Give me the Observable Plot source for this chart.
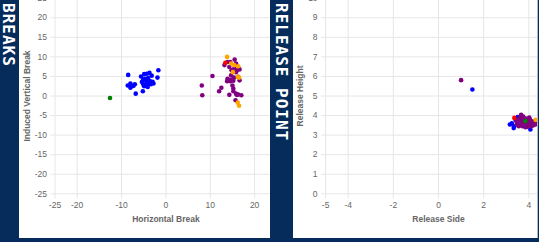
<!DOCTYPE html>
<html><head><meta charset="utf-8">
<script src="https://cdn.jsdelivr.net/npm/d3@7"></script>
<script src="https://cdn.jsdelivr.net/npm/@observablehq/plot@0.6"></script>
<style>
html,body{margin:0;padding:0;width:539px;height:242px;overflow:hidden;background:#062c5c;}
.panel{position:absolute;top:0;height:238px;background:#fff;overflow:hidden;}
.panel svg{position:absolute;left:0;top:-10px;max-width:none !important;}
.strip{position:absolute;top:3px;color:#fff;font-family:"DejaVu Sans Mono",monospace;font-weight:bold;font-size:16px;letter-spacing:1px;writing-mode:vertical-rl;line-height:16px;white-space:nowrap;}
</style>
</head><body>
<div class="strip" id="s1" style="left:0px;">BREAKS</div>
<div class="panel" id="p1" style="left:19px;width:251px;"></div>
<div class="strip" id="s2" style="left:273px;">RELEASE POINT</div>
<div class="panel" id="p2" style="left:293px;width:244px;border-right:1px solid #aab8cc;"></div>
<script>
// ---- Breaks chart data ----
const breakXTicks = [-25, -20, -10, 0, 10, 20];
const breakYTicks = [-25, -20, -15, -10, -5, 0, 5, 10, 15, 20, 25];
const blueBreaks = [
  [-8.5, 5.4], [-8.6, 2.7], [-8.0, 2.1], [-7.7, 2.5], [-7.3, 2.6], [-7.0, 3.0],
  [-8.0, 3.2], [-6.8, 0.6], [-5.2, 1.2], [-5.6, 5.0], [-4.9, 5.6], [-4.3, 5.7],
  [-3.7, 5.9], [-3.2, 5.2], [-4.7, 4.4], [-4.0, 4.6], [-4.4, 3.8], [-3.6, 3.8],
  [-5.1, 3.0], [-4.4, 2.8], [-3.4, 3.0], [-3.0, 3.6], [-5.4, 3.6], [-1.9, 4.7],
  [-1.7, 6.6], [-5.1, 4.2], [-4.0, 3.3], [-4.9, 2.5], [-2.8, 3.2], [-4.1, 2.3]
];
const purpleBreaks = [
  [8.1, 2.7], [8.2, 0.2], [10.5, 5.1], [12.0, 1.2], [12.5, 2.1], [13.2, 7.9],
  [13.9, 8.7], [14.5, 8.7], [15.5, 9.3], [15.8, 8.3], [14.3, 7.4], [14.8, 6.6],
  [15.4, 7.0], [16.0, 6.6], [16.6, 6.8], [15.8, 6.1], [14.7, 5.3], [13.9, 4.4],
  [14.7, 4.2], [15.4, 4.7], [16.3, 4.9], [13.8, 3.8], [14.5, 3.8], [15.2, 3.9],
  [16.6, 4.0], [15.0, 2.7], [15.2, 1.9], [15.2, 1.2], [15.8, 0.6], [14.3, 0.3],
  [16.3, 0.4], [17.0, 0.2], [15.7, -1.1], [16.0, 0.3]
];
const orangeBreaks = [
  [13.8, 10.0], [15.4, 7.9], [16.3, 7.6], [15.1, 6.1], [16.2, 4.9], [16.5, 4.7],
  [16.2, -1.7], [16.5, -2.5], [14.7, 8.3]
];
const redBreaks = [[13.4, 8.5]];
const greenBreaks = [[-12.6, -0.5]];

// ---- Release point chart data ----
const releaseXTicks = [-5, -4, -2, 0, 2, 4];
const releaseYTicks = [0, 1, 2, 3, 4, 5, 6, 7, 8, 9, 10];
const blueRelease = [
  [1.5, 5.33], [3.16, 3.54], [3.33, 3.36], [3.41, 3.79], [3.51, 3.92], [4.07, 3.29],
  [4.44, 3.6], [3.25, 3.6], [3.35, 3.45], [3.4, 3.85]
];
const purpleRelease = [
  [1.0, 5.81], [3.45, 3.7], [3.5, 3.6], [3.55, 3.8], [3.6, 3.5], [3.62, 3.9],
  [3.66, 4.04], [3.7, 3.65], [3.72, 3.45], [3.75, 3.95], [3.78, 3.8], [3.8, 3.55],
  [3.85, 3.4], [3.88, 3.85], [3.9, 3.6], [3.95, 3.75], [3.98, 3.5], [4.0, 3.65],
  [4.05, 3.8], [4.1, 3.45], [4.12, 3.6], [4.18, 3.7], [4.2, 3.5], [4.25, 3.62],
  [4.3, 3.55], [4.35, 3.7], [4.4, 3.6], [3.55, 3.45], [3.65, 3.72], [3.92, 3.42],
  [4.02, 3.9], [3.48, 3.55], [3.85, 3.68], [4.08, 3.72]
];
const orangeRelease = [[4.3, 3.78], [4.45, 3.8]];
const redRelease = [[3.36, 3.88]];
const greenRelease = [[3.85, 3.72]];

const seriesColors = ["#0000ff", "#800080", "#ffa500", "#ff0000", "#008000"];

function chart(o) {
  const font = "'Liberation Sans', Arial, sans-serif";
  const dotMarks = o.series.map((s, i) =>
    Plot.dot(s, {x: d => d[0], y: d => d[1], r: 2.3, fill: seriesColors[i], stroke: "none"}));
  return Plot.plot({
    width: o.width, height: o.height,
    marginLeft: o.mL, marginRight: o.mR, marginTop: o.mT, marginBottom: o.mB,
    x: {domain: o.xDomain},
    y: {domain: o.yDomain},
    style: {fontFamily: font, background: "transparent", overflow: "visible", maxWidth: "none"},
    marks: [
      Plot.gridX(o.xTicks, {stroke: "#e6e6e6", strokeOpacity: 1}),
      Plot.gridY(o.yTicks, {stroke: "#e6e6e6", strokeOpacity: 1}),
      Plot.axisX(o.xTicks, {tickSize: 5, tickPadding: 3, stroke: "#e6e6e6", fill: "#666",
        fontSize: 8.5, label: null, tickFormat: d => String(d)}),
      Plot.axisY(o.yTicks, {tickSize: 4, tickPadding: 4, stroke: "#e6e6e6", fill: "#666",
        fontSize: 8.5, label: null, tickFormat: d => String(d)}),
      Plot.text([o.xLabel], {frameAnchor: "bottom", dy: 25, text: d => d, fill: "#666",
        fontSize: 8.5, fontWeight: "bold", textAnchor: "middle", lineAnchor: "middle"}),
      Plot.text([o.yLabel], {frameAnchor: "left", dx: o.yLabelDx, rotate: -90, text: d => d,
        fill: "#666", fontSize: 8.5, fontWeight: "bold", textAnchor: "middle", lineAnchor: "middle"}),
      ...dotMarks
    ]
  });
}

document.getElementById("p1").appendChild(chart({
  width: 280, height: 250, mL: 35.5, mR: 22.7, mT: 7.7, mB: 46.7,
  xDomain: [-25, 25], yDomain: [-25, 25], xTicks: breakXTicks, yTicks: breakYTicks,
  xLabel: "Horizontal Break", yLabel: "Induced Vertical Break", yLabelDx: -28,
  series: [blueBreaks, purpleBreaks, orangeBreaks, redBreaks, greenBreaks]
}));
document.getElementById("p2").appendChild(chart({
  width: 280, height: 250, mL: 32.1, mR: 22.1, mT: 7.7, mB: 46.7,
  xDomain: [-5, 5], yDomain: [0, 10], xTicks: releaseXTicks, yTicks: releaseYTicks,
  xLabel: "Release Side", yLabel: "Release Height", yLabelDx: -25,
  series: [blueRelease, purpleRelease, orangeRelease, redRelease, greenRelease]
}));
</script>
</body></html>
